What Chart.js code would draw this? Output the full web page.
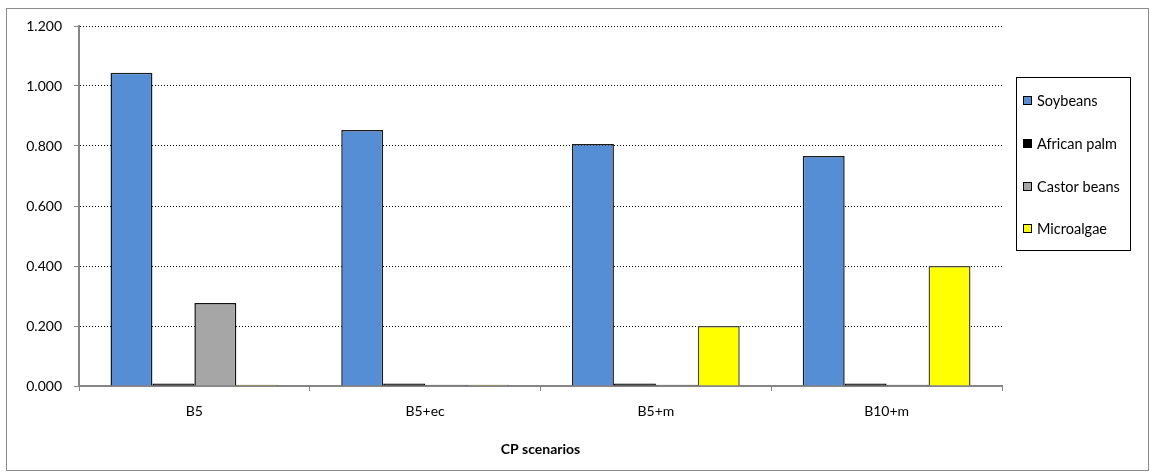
<!DOCTYPE html>
<html>
<head>
<meta charset="utf-8">
<script src="https://cdn.jsdelivr.net/npm/chart.js@4"></script>
<style>
  html, body { margin: 0; padding: 0; background: #fff; }
  #wrap { width: 1150px; height: 475px; }
</style>
</head>
<body>
<div id="wrap"><canvas id="cpChart" width="1150" height="475"></canvas></div>
<script>
var scenarios = ['B5', 'B5+ec', 'B5+m', 'B10+m'];
var soybeans = [1.044, 0.853, 0.807, 0.767];
var africanPalm = [0.008, 0.008, 0.008, 0.008];
var castorBeans = [0.277, 0.004, 0.004, 0.004];
var microalgae = [0.004, 0.004, 0.200, 0.400];
var yTicks = [0, 0.2, 0.4, 0.6, 0.8, 1.0, 1.2];

var FONT = 'Lato, "Open Sans", sans-serif';

// outer frame + boxed legend, drawn by hand
var frameAndLegend = {
  id: 'frameAndLegend',
  afterDraw: function (chart) {
    var c = chart.ctx;
    c.save();
    c.strokeStyle = '#8c8c8c';
    c.lineWidth = 1;
    c.strokeRect(6.5, 8.5, 1142, 462);

    c.strokeStyle = '#000';
    c.strokeRect(1016.5, 77.5, 114, 173);
    var rows = [100, 143, 186, 228];
    c.font = '14.5px ' + FONT;
    c.textBaseline = 'middle';
    chart.data.datasets.forEach(function (ds, i) {
      c.fillStyle = ds.backgroundColor;
      c.fillRect(1023, rows[i] - 4, 9, 9);
      c.strokeStyle = '#000';
      c.strokeRect(1023.5, rows[i] - 3.5, 8, 8);
      c.fillStyle = '#000';
      c.fillText(ds.label, 1037, rows[i] + 1);
    });
    c.restore();
  }
};

var ctx = document.getElementById('cpChart').getContext('2d');
var cpChart = new Chart(ctx, {
  type: 'bar',
  data: {
    labels: scenarios,
    datasets: [
      { label: 'Soybeans', data: soybeans, backgroundColor: '#558ed5', borderColor: '#1a1a1a', borderWidth: 1.5 },
      { label: 'African palm', data: africanPalm, backgroundColor: '#000000', borderColor: '#000000', borderWidth: 1.5 },
      { label: 'Castor beans', data: castorBeans, backgroundColor: '#a6a6a6', borderColor: '#111111', borderWidth: 1.5 },
      { label: 'Microalgae', data: microalgae, backgroundColor: '#ffff00', borderColor: '#4a4a3a', borderWidth: 1.5 }
    ]
  },
  options: {
    responsive: false,
    animation: false,
    layout: { padding: { top: 26, right: 148, bottom: 17, left: 0 } },
    datasets: { bar: { categoryPercentage: 0.727, barPercentage: 1.0 } },
    plugins: {
      legend: { display: false },
      tooltip: { enabled: false }
    },
    scales: {
      x: {
        grid: { display: true, drawOnChartArea: false, drawTicks: true, tickLength: 5, color: '#868686', offset: true },
        border: { color: '#868686', width: 2 },
        ticks: { color: '#000', font: { family: FONT, size: 14 }, padding: 12 },
        title: { display: true, text: 'CP scenarios', color: '#000', font: { family: FONT, size: 14, weight: 'bold' }, padding: { top: 10, bottom: 0 } },
        afterFit: function (scale) { scale.height = 72; }
      },
      y: {
        min: 0,
        max: 1.2,
        afterBuildTicks: function (scale) {
          scale.ticks = yTicks.map(function (v) { return { value: v }; });
        },
        grid: { color: '#000', lineWidth: 1, tickColor: '#868686', tickLength: 5, tickBorderDash: [] },
        border: { color: '#868686', width: 2, dash: [1, 2] },
        ticks: {
          color: '#000',
          font: { family: FONT, size: 14 },
          padding: 12,
          callback: function (v) { return v.toFixed(3); }
        },
        afterFit: function (scale) { scale.width = 79; }
      }
    }
  },
  plugins: [frameAndLegend]
});
</script>
</body>
</html>
